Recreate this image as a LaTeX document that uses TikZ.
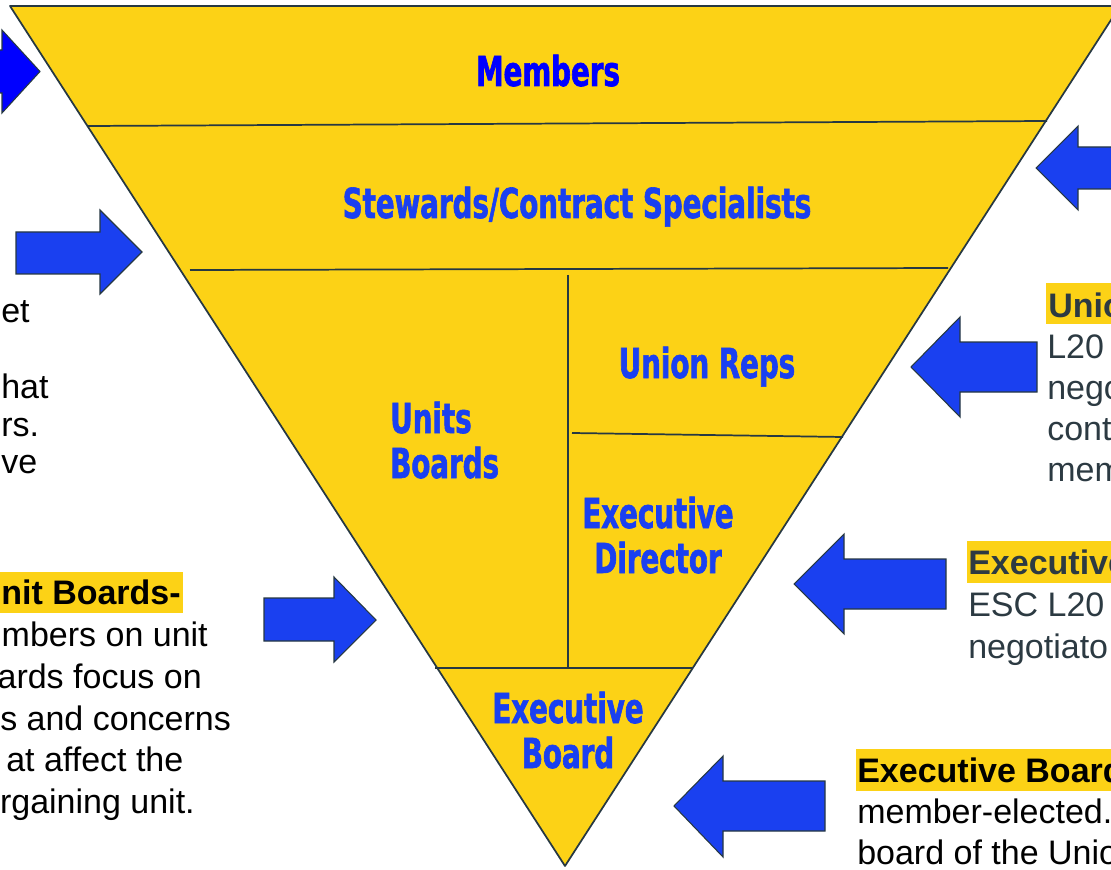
\documentclass[tikz,border=0pt]{standalone}
\usepackage{fontspec}
\setmainfont{Liberation Sans}
\newfontfamily\headfont{DejaVu Sans Bold}[FakeStretch=0.67,FakeBold=1.5]
\definecolor{gold}{RGB}{252,210,22}
\definecolor{edge}{RGB}{38,56,66}
\definecolor{royal}{RGB}{26,64,240}
\definecolor{pureblue}{RGB}{0,0,255}
\definecolor{slate}{RGB}{44,58,66}
\begin{document}
\begin{tikzpicture}[x=0.75pt,y=-0.75pt,
  tier/.style={font=\headfont\fontsize{31}{33.75}\selectfont, text=royal, inner sep=0, align=center},
  body/.style={font=\fontsize{25.5}{31}\selectfont, inner sep=0},
  head/.style={font=\bfseries\fontsize{25.5}{31}\selectfont, inner sep=0},
  rule/.style={draw=edge, line width=1.3pt},
  barrow/.style={fill=royal, draw=edge, line width=0.8pt, line join=miter}
]
\useasboundingbox (0,0) rectangle (1111,870);
\clip (0,0) rectangle (1111,870);

% inverted pyramid
\coordinate (TL) at (10,6);
\coordinate (TR) at (1120,6);
\coordinate (B) at (565,866);
\filldraw[fill=gold, draw=edge, line width=1.3pt, line join=round] (TL) -- (TR) -- (B) -- cycle;

% tier dividers
\draw[rule] (88,126) -- (1047,121);
\draw[rule] (190,270) -- (948,268);
\draw[rule] (568,275) -- (568,668);
\draw[rule] (572,433) -- (843,437);
\draw[rule] (435,668) -- (692,668);

% tier labels (multi-line nodes are placed by the baseline of their last line)
\node[tier, text=pureblue, anchor=base] (members) at (548,86) {Members};
\node[tier, anchor=base] (stewards) at (577,218) {Stewards/Contract Specialists};
\node[tier, anchor=base] (reps) at (707,378) {Union Reps};
\node[tier, anchor=base west, align=left] (units) at (390,478) {Units\\Boards};
\node[tier, anchor=base] (director) at (658,573) {Executive\\Director};
\node[tier, anchor=base] (board) at (568,768) {Executive\\Board};

% block arrows pointing at the pyramid
\filldraw[barrow, fill=pureblue] (-20,50) -- (2,50) -- (2,30) -- (40,71.5) -- (2,113) -- (2,93) -- (-20,93) -- cycle;
\filldraw[barrow] (16,232) -- (100,232) -- (100,210) -- (142,252) -- (100,294) -- (100,274) -- (16,274) -- cycle;
\filldraw[barrow] (264,598) -- (334,598) -- (334,577) -- (376,620) -- (334,662) -- (334,641) -- (264,641) -- cycle;
\filldraw[barrow] (1130,147) -- (1078,147) -- (1078,126) -- (1036,168) -- (1078,210) -- (1078,189) -- (1130,189) -- cycle;
\filldraw[barrow] (1037,342) -- (960,342) -- (960,317) -- (911,367) -- (960,417) -- (960,392) -- (1037,392) -- cycle;
\filldraw[barrow] (946,559) -- (844,559) -- (844,534) -- (794,584) -- (844,634) -- (844,609) -- (946,609) -- cycle;
\filldraw[barrow] (825,781) -- (723,781) -- (723,756) -- (674,806) -- (723,857) -- (723,831) -- (825,831) -- cycle;

% highlight bars behind headings
\fill[gold] (0,572) rectangle (183,613);
\fill[gold] (1046,283) rectangle (1111,324);
\fill[gold] (967,541) rectangle (1111,583);
\fill[gold] (856,749) rectangle (1111,791);

% upper left text
\node[body, anchor=base west] (ul1) at (1,322) {et};
\node[body, anchor=base west] (ul2) at (1,398) {hat};
\node[body, anchor=base west] (ul3) at (1,436) {rs.};
\node[body, anchor=base west] (ul4) at (1,473) {ve};

% unit boards text
\node[head, anchor=base east] (ub0) at (181,604) {nit Boards-};
\node[body, anchor=base east] (ub1) at (208,646) {mbers on unit};
\node[body, anchor=base east] (ub2) at (202,688) {ards focus on};
\node[body, anchor=base west] (ub3) at (0,730) {s and concerns};
\node[body, anchor=base west] (ub4) at (6,771) {at affect the};
\node[body, anchor=base east] (ub5) at (195,813) {rgaining unit.};

% union reps text
\node[head, text=slate, anchor=base west] (ur0) at (1048,317) {Unio};
\node[body, text=slate, anchor=base west] (ur1) at (1047,358) {L20};
\node[body, text=slate, anchor=base west] (ur2) at (1047,399) {nego};
\node[body, text=slate, anchor=base west] (ur3) at (1047,440) {cont};
\node[body, text=slate, anchor=base west] (ur4) at (1047,481) {mem};

% executive director text
\node[head, text=slate, anchor=base west] (ed0) at (968,574) {Executive};
\node[body, text=slate, anchor=base west] (ed1) at (968,616) {ESC L20};
\node[body, text=slate, anchor=base west] (ed2) at (968,658) {negotiato};

% executive board text
\node[head, anchor=base west] (eb0) at (857,782) {Executive Board};
\node[body, anchor=base west] (eb1) at (857,823) {member-elected.};
\node[body, anchor=base west] (eb2) at (857,864) {board of the Unio};
\end{tikzpicture}
\end{document}
